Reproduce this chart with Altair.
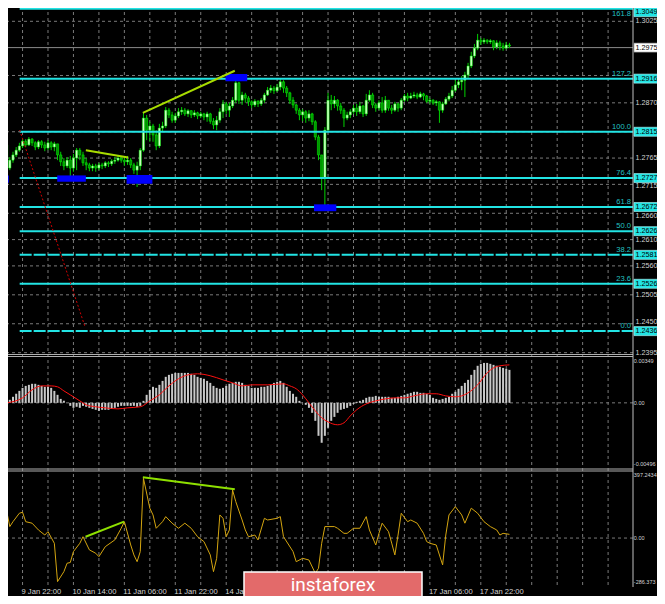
import altair as alt
import pandas as pd

# ---------------- data (GBPUSD H1, bars indexed in hours after 9 Jan 22:00) ----------------
bar_start = -5
first_open = 1.2790
closes = [1.2746, 1.2761, 1.2771, 1.2780, 1.2788,
          1.2797, 1.2790, 1.2801, 1.2794, 1.2786, 1.2796, 1.2790, 1.2784, 1.2794, 1.2786,
          1.2792, 1.2771, 1.2758, 1.2750, 1.2761, 1.2746, 1.2765, 1.2780, 1.2771, 1.2756,
          1.2752, 1.2746, 1.2750, 1.2746, 1.2752, 1.2750, 1.2756, 1.2754, 1.2759, 1.2761,
          1.2765, 1.2761, 1.2758, 1.2761, 1.2752, 1.2742, 1.2750, 1.2780, 1.2841, 1.2818,
          1.2826, 1.2809, 1.2788, 1.2822, 1.2826, 1.2856, 1.2847, 1.2837, 1.2845, 1.2853,
          1.2856, 1.2849, 1.2855, 1.2847, 1.2851, 1.2845, 1.2849, 1.2843, 1.2849, 1.2835,
          1.2828, 1.2837, 1.2853, 1.2868, 1.2856, 1.2864, 1.2875, 1.2908, 1.2875, 1.2885,
          1.2879, 1.2872, 1.2866, 1.2873, 1.2868, 1.2875, 1.2885, 1.2894, 1.2898, 1.2893,
          1.2900, 1.2910, 1.2898, 1.2889, 1.2875, 1.2866, 1.2856, 1.2847, 1.2853, 1.2841,
          1.2849, 1.2834, 1.2805, 1.2771, 1.2727, 1.2818, 1.2875, 1.2868, 1.2875, 1.2864,
          1.2856, 1.2841, 1.2847, 1.2853, 1.2860, 1.2853, 1.2864, 1.2849, 1.2875, 1.2885,
          1.2866, 1.2860, 1.2870, 1.2856, 1.2875, 1.2860, 1.2856, 1.2868, 1.2860, 1.2875,
          1.2883, 1.2879, 1.2883, 1.2885, 1.2881, 1.2887, 1.2883, 1.2873, 1.2875, 1.2870,
          1.2872, 1.2856, 1.2868, 1.2877, 1.2883, 1.2894, 1.2904, 1.2910, 1.2913, 1.2923,
          1.2940, 1.2959, 1.2974, 1.2989, 1.2986, 1.2989, 1.2986, 1.2988, 1.2976, 1.2984,
          1.2978, 1.2974, 1.2980, 1.2978]
highs = [1.2803, 1.2767, 1.2777, 1.2786, 1.2794,
         1.2803, 1.2801, 1.2805, 1.2803, 1.2797, 1.2799, 1.2799, 1.2796, 1.2799, 1.2797,
         1.2796, 1.2788, 1.2777, 1.2765, 1.2767, 1.2769, 1.2773, 1.2784, 1.2784, 1.2777,
         1.2765, 1.2756, 1.2754, 1.2754, 1.2756, 1.2756, 1.2759, 1.2759, 1.2763, 1.2767,
         1.2771, 1.2769, 1.2767, 1.2769, 1.2765, 1.2756, 1.2758, 1.2784, 1.2851, 1.2847,
         1.2834, 1.2830, 1.2818, 1.2830, 1.2834, 1.2862, 1.2860, 1.2853, 1.2851, 1.2860,
         1.2862, 1.2860, 1.2858, 1.2856, 1.2856, 1.2853, 1.2853, 1.2851, 1.2853, 1.2851,
         1.2841, 1.2845, 1.2860, 1.2875, 1.2872, 1.2870, 1.2881, 1.2917, 1.2910, 1.2891,
         1.2889, 1.2883, 1.2875, 1.2877, 1.2875, 1.2879, 1.2889, 1.2900, 1.2904, 1.2902,
         1.2906, 1.2917, 1.2913, 1.2902, 1.2891, 1.2881, 1.2868, 1.2860, 1.2858, 1.2856,
         1.2856, 1.2851, 1.2837, 1.2809, 1.2771, 1.2824, 1.2889, 1.2885, 1.2883, 1.2877,
         1.2870, 1.2860, 1.2853, 1.2858, 1.2866, 1.2868, 1.2872, 1.2866, 1.2887, 1.2894,
         1.2889, 1.2870, 1.2875, 1.2881, 1.2883, 1.2875, 1.2866, 1.2872, 1.2870, 1.2879,
         1.2887, 1.2889, 1.2889, 1.2891, 1.2889, 1.2891, 1.2889, 1.2885, 1.2879, 1.2877,
         1.2875, 1.2873, 1.2872, 1.2881, 1.2889, 1.2902, 1.2913, 1.2917, 1.2921, 1.2929,
         1.2946, 1.2967, 1.2982, 1.3001, 1.2993, 1.2993, 1.2991, 1.2991, 1.2989, 1.2989,
         1.2988, 1.2984, 1.2986, 1.2984]
lows = [1.2739, 1.2742, 1.2756, 1.2767, 1.2777,
        1.2784, 1.2786, 1.2788, 1.2788, 1.2780, 1.2782, 1.2784, 1.2778, 1.2780, 1.2780,
        1.2778, 1.2761, 1.2750, 1.2742, 1.2746, 1.2729, 1.2739, 1.2742, 1.2761, 1.2750,
        1.2742, 1.2740, 1.2740, 1.2739, 1.2742, 1.2744, 1.2746, 1.2748, 1.2750, 1.2754,
        1.2758, 1.2756, 1.2750, 1.2752, 1.2746, 1.2735, 1.2710, 1.2742, 1.2777, 1.2799,
        1.2796, 1.2796, 1.2780, 1.2784, 1.2816, 1.2822, 1.2841, 1.2832, 1.2832, 1.2841,
        1.2847, 1.2845, 1.2843, 1.2841, 1.2843, 1.2839, 1.2841, 1.2837, 1.2834, 1.2830,
        1.2820, 1.2818, 1.2832, 1.2841, 1.2849, 1.2843, 1.2860, 1.2870, 1.2868, 1.2866,
        1.2870, 1.2864, 1.2860, 1.2862, 1.2862, 1.2864, 1.2870, 1.2883, 1.2889, 1.2887,
        1.2891, 1.2894, 1.2889, 1.2881, 1.2868, 1.2860, 1.2849, 1.2837, 1.2835, 1.2832,
        1.2835, 1.2828, 1.2799, 1.2761, 1.2704, 1.2672, 1.2818, 1.2856, 1.2860, 1.2855,
        1.2849, 1.2824, 1.2837, 1.2841, 1.2849, 1.2845, 1.2849, 1.2843, 1.2845, 1.2872,
        1.2860, 1.2853, 1.2856, 1.2851, 1.2851, 1.2855, 1.2849, 1.2853, 1.2853, 1.2856,
        1.2872, 1.2873, 1.2877, 1.2879, 1.2877, 1.2879, 1.2875, 1.2870, 1.2868, 1.2866,
        1.2864, 1.2832, 1.2851, 1.2866, 1.2873, 1.2879, 1.2891, 1.2898, 1.2894, 1.2881,
        1.2917, 1.2936, 1.2955, 1.2970, 1.2980, 1.2982, 1.2982, 1.2982, 1.2970, 1.2972,
        1.2970, 1.2969, 1.2972, 1.2974]

macd_hist = [0.00015, 0.00023, 0.00046, 0.00069, 0.00091,
             0.00114, 0.00129, 0.00137, 0.00145, 0.00145, 0.00137, 0.00129, 0.00122, 0.00122, 0.00114,
             0.00091, 0.00061, 0.0003, 0.00015, 0.0, -0.00023, -0.00038, -0.0003, -0.00038, -0.00023,
             -0.0003, -0.00038, -0.00046, -0.00053, -0.00061, -0.00053, -0.00053, -0.00053, -0.00046, -0.00038,
             -0.0003, -0.00023, -0.00023, -0.00023, -0.00023, -0.00023, -0.0003, -0.00023, 0.00015, 0.00061,
             0.00099, 0.00122, 0.00114, 0.00137, 0.00167, 0.00198, 0.00213, 0.00221, 0.00228, 0.00228,
             0.00228, 0.00228, 0.00228, 0.00221, 0.00213, 0.00198, 0.0019, 0.00183, 0.00167, 0.00152,
             0.00129, 0.00114, 0.00107, 0.00114, 0.00129, 0.00145, 0.00152, 0.0016, 0.0016, 0.00152,
             0.00137, 0.00129, 0.00114, 0.00114, 0.00114, 0.00122, 0.00122, 0.00129, 0.00137, 0.00152,
             0.0016, 0.00167, 0.00152, 0.00122, 0.00091, 0.00069, 0.00046, 0.00015, 0.0, -0.00015,
             -0.00038, -0.00076, -0.00137, -0.00251, -0.00304, -0.00251, -0.0019, -0.00137, -0.00107, -0.00076,
             -0.00053, -0.00046, -0.00038, -0.00023, -0.00008, 0.00008, 0.00015, 0.00023, 0.00038, 0.00046,
             0.00046, 0.00053, 0.00046, 0.00046, 0.00046, 0.00046, 0.00038, 0.00038, 0.00046, 0.00053,
             0.00061, 0.00069, 0.00076, 0.00084, 0.00084, 0.00076, 0.00076, 0.00069, 0.00061, 0.00038,
             0.0003, 0.00023, 0.0003, 0.00038, 0.00046, 0.00069, 0.00084, 0.00107, 0.00129, 0.00152,
             0.00175, 0.00213, 0.00251, 0.00282, 0.00297, 0.00304, 0.00304, 0.00297, 0.00289, 0.00282,
             0.00274, 0.00266, 0.00259, 0.00251]

signal_t = [-5, 0, 3, 6, 9, 11, 13, 15, 18, 20, 23, 26, 30, 33, 37, 40, 43, 46, 49, 52, 55, 59, 63,
            66, 69, 72, 77, 82, 84, 86, 88, 90, 92, 94, 96, 99, 101, 103, 105, 108, 111, 114, 117,
            120, 123, 127, 130, 133, 136, 138, 140, 143, 146, 148, 150, 153]
signal_v = [0.0, 0.00038, 0.00099, 0.00129, 0.00129, 0.00122, 0.00091, 0.00061, 0.00015, -0.00015,
            -0.0003, -0.00038, -0.00046, -0.00038, -0.0003, 0.00015, 0.00061, 0.00129, 0.00183,
            0.00213, 0.00221, 0.00206, 0.00175, 0.00152, 0.00129, 0.00137, 0.00137, 0.00145, 0.00129,
            0.00107, 0.00061, 0.0, -0.00061, -0.00114, -0.00145, -0.00167, -0.00152, -0.00099,
            -0.00053, -0.00008, 0.00015, 0.0003, 0.00038, 0.00038, 0.00053, 0.00069, 0.00069,
            0.00053, 0.00046, 0.00053, 0.00076, 0.00137, 0.00228, 0.00266, 0.00282, 0.00289]

cci_t = [-5, -4, -3, -1, 0, 1, 3, 5, 7, 8, 10, 11, 13, 14, 15, 16, 18, 19, 21, 23, 24, 26, 29, 31,
         32, 34, 35, 36, 37, 38, 40, 41, 42, 44, 45, 47, 49, 51, 53, 55, 57, 59, 60, 61, 62, 63, 64,
         65, 66, 67, 69, 70, 71, 73, 74, 76, 77, 80, 81, 82, 85, 86, 88, 90, 92, 93, 94, 95, 98, 99,
         101, 102, 104, 106, 108, 109, 111, 112, 113, 115, 116, 117, 118, 119, 121, 122, 124, 126,
         127, 128, 130, 132, 133, 134, 136, 138, 139, 141, 143, 145, 147, 149, 150, 151, 153]
cci_v = [160, 68, 97, 147, 153, 97, 88, 48, 18, 38, -31, -258, -199, -149, -145, -80, -31, 8, -70,
         -90, -110, -51, -11, 58, 97, -41, -100, -140, -80, 354, 177, 137, 58, 97, 127, 88, 58, 88,
         58, 8, -21, -100, -199, -120, 137, 117, 8, 48, 285, 216, 107, 48, 8, 18, -11, 117, 107, 117,
         127, 8, -80, -140, -120, -130, -209, -179, -31, 68, 68, 58, 28, 28, 58, 58, 127, 48, -41, 28,
         88, 38, -30, -100, 18, 147, 97, 107, 88, 28, -21, -31, -41, -159, 18, 137, 186, 137, 88,
         177, 147, 97, 68, 48, 18, 28, 22]

fib_pct = ["161.8", "127.2", "100.0", "76.4", "61.8", "50.0", "38.2", "23.6", "0.0"]
fib_price = [1.3049, 1.2916, 1.2815, 1.2727, 1.2672, 1.2626, 1.2581, 1.2526, 1.2436]
fib_dashed = [False, False, False, False, False, False, True, False, True]
fib_start_t = -0.9
grid_price = [1.3025, 1.2922, 1.2870, 1.2815, 1.2765, 1.2715, 1.2660, 1.2610, 1.2560,
              1.2505, 1.2450, 1.2395]
grid_label_price = [1.3025, 1.2870, 1.2765, 1.2715, 1.2660, 1.2610, 1.2560, 1.2505, 1.2450, 1.2395]
bid_price = 1.2975

price_trend = [[(37.8, 1.2851), (66.7, 1.2931)], [(19.9, 1.2780), (33.2, 1.2766)]]
cci_trend = [[(19.8, 8), (31.9, 97)], [(37.8, 360), (66.7, 289)]]
red_line = [(-0.9, 1.2818), (19.7, 1.2443)]
blue_boxes = [(-5.6, -4.3, 1.2718, 1.2732), (10.9, 19.9, 1.2720, 1.2732),
              (32.7, 40.8, 1.2716, 1.2733), (91.6, 98.6, 1.2664, 1.2677),
              (63.8, 70.6, 1.2911, 1.2925)]

time_t = [0, 16, 32, 48, 64, 128, 144]
time_labels = ["9 Jan 22:00", "10 Jan 14:00", "11 Jan 06:00", "11 Jan 22:00",
               "14 Jan 14:00", "17 Jan 06:00", "17 Jan 22:00"]
vgrid_t = list(range(0, 185, 8))

macd_labels = [(0.00349, "0.00349"), (0.0, "0.00"), (-0.00496, "-0.00496")]
cci_labels = [(397.2434, "397.2434"), (0.0, "0.00"), (-286.373, "-286.373")]

# ---------------- frames ----------------
n = len(closes)
opens = [first_open] + closes[:-1]
candles = pd.DataFrame({
    "t": [bar_start + i for i in range(n)],
    "o": opens, "c": closes,
    "h": [max(h, o, c) for h, o, c in zip(highs, opens, closes)],
    "l": [min(l, o, c) for l, o, c in zip(lows, opens, closes)],
})
candles["dir"] = ["up" if c >= o else "down" for o, c in zip(candles.o, candles.c)]
macd_df = pd.DataFrame({"t": candles.t, "v": macd_hist})
sig_df = pd.DataFrame({"t": signal_t, "v": signal_v})
cci_df = pd.DataFrame({"t": cci_t, "v": cci_v})
fib_df = pd.DataFrame({"pct": fib_pct, "p": fib_price, "dashed": fib_dashed,
                       "t0": fib_start_t, "lab": [f"{p:.4f}" for p in fib_price]})
# the top level tag sits at the very top edge; keep it inside the window
fib_df["tagdy"] = [4.0 if p == max(fib_price) else 0.0 for p in fib_price]
grid_df = pd.DataFrame({"p": grid_price})
glab_df = pd.DataFrame({"p": grid_label_price, "lab": [f"{p:.4f}" for p in grid_label_price]})
one = pd.DataFrame({"a": [0]})

def seg_df(segs):
    rows = []
    for k, s in enumerate(segs):
        for (t, v) in s:
            rows.append({"id": k, "t": t, "v": v})
    return pd.DataFrame(rows)

ptrend_df = seg_df(price_trend)
ctrend_df = seg_df(cci_trend)
red_df = seg_df([red_line])
box_df = pd.DataFrame(blue_boxes, columns=["t1", "t2", "p1", "p2"])
time_df = pd.DataFrame({"t": time_t, "lab": time_labels})
vgrid_df = pd.DataFrame({"t": vgrid_t})

# ---------------- scales (coordinates follow the 665x604 picture) ----------------
XS = alt.Scale(domain=[-5.509, 200.31], range=[0, 665], nice=False, zero=False)
PS = alt.Scale(domain=[1.23906, 1.30655], range=[355, 0], nice=False, zero=False)
MS = alt.Scale(domain=[-0.00496, 0.00349], range=[468, 357], nice=False, zero=False)
CS = alt.Scale(domain=[-286.373, 397.2434], range=[586.4, 471], nice=False, zero=False)

def X(f):
    return alt.X(f, type="quantitative", scale=XS, axis=None)

def Y(f, s):
    return alt.Y(f, type="quantitative", scale=s, axis=None)

FONT = "Liberation Sans"
GRID = "#7a7a7a"
CYAN = "#22e4e4"
LIME = "#00ff00"
TEAL_TXT = "#22c4c4"
AX_TXT = "#d4d4d4"
FS = 7.2

layers = []
# vertical grid
layers.append(alt.Chart(vgrid_df).mark_rule(color=GRID, strokeDash=[3, 3], strokeWidth=1).encode(
    x=X("t"), y=alt.value(0), y2=alt.value(587)))
# price grid
layers.append(alt.Chart(grid_df).mark_rule(color=GRID, strokeDash=[3, 3], strokeWidth=1).encode(
    x=alt.value(0), x2=alt.value(633), y=Y("p", PS)))
# zero lines
layers.append(alt.Chart(one).mark_rule(color=GRID, strokeDash=[3, 3]).encode(
    x=alt.value(0), x2=alt.value(633), y=alt.Y(datum=0, scale=MS, axis=None)))
layers.append(alt.Chart(one).mark_rule(color=GRID, strokeDash=[3, 3]).encode(
    x=alt.value(0), x2=alt.value(633), y=alt.Y(datum=0, scale=CS, axis=None)))
# bid line
layers.append(alt.Chart(one).mark_rule(color="#8a8a8a", strokeWidth=1).encode(
    x=alt.value(0), x2=alt.value(633), y=alt.Y(datum=bid_price, scale=PS, axis=None)))
# candles
layers.append(alt.Chart(candles).mark_rule(color="#00d000", strokeWidth=1).encode(
    x=X("t"), y=Y("l", PS), y2="h"))
layers.append(alt.Chart(candles).mark_bar(size=2.2, stroke=LIME, strokeWidth=0.5).encode(
    x=X("t"), y=Y("o", PS), y2="c",
    fill=alt.Fill("dir:N", scale=alt.Scale(domain=["up", "down"], range=["#d2ffc8", "#009400"]),
                  legend=None)))
# fib lines
layers.append(alt.Chart(fib_df).transform_filter("!datum.dashed").mark_rule(
    color=CYAN, strokeWidth=2).encode(x=X("t0"), x2=alt.value(633), y=Y("p", PS)))
layers.append(alt.Chart(fib_df).transform_filter("datum.dashed").mark_rule(
    color=CYAN, strokeWidth=2, strokeDash=[12, 2]).encode(x=X("t0"), x2=alt.value(633), y=Y("p", PS)))
# blue boxes
layers.append(alt.Chart(box_df).mark_rect(color="#0000ff").encode(
    x=X("t1"), x2="t2", y=Y("p1", PS), y2="p2"))
# trend lines
layers.append(alt.Chart(ptrend_df).mark_line(color="#a8dc00", strokeWidth=2).encode(
    x=X("t"), y=Y("v", PS), detail="id:N"))
layers.append(alt.Chart(red_df).mark_line(color="#d00000", strokeWidth=1, strokeDash=[2, 2]).encode(
    x=X("t"), y=Y("v", PS)))
# MACD
layers.append(alt.Chart(macd_df).mark_bar(size=2, color="#c8c8c8").encode(
    x=X("t"), y=Y("v", MS), y2=alt.Y2(datum=0)))
layers.append(alt.Chart(sig_df).mark_line(color="#ff1010", strokeWidth=1, interpolate="monotone").encode(
    x=X("t"), y=Y("v", MS)))
# CCI
layers.append(alt.Chart(cci_df).mark_line(color="#d4a510", strokeWidth=1).encode(
    x=X("t"), y=Y("v", CS)))
layers.append(alt.Chart(ctrend_df).mark_line(color="#8ee000", strokeWidth=2).encode(
    x=X("t"), y=Y("v", CS), detail="id:N"))
# separators and right axis line
for yy in [354.5, 356.5, 469, 471]:
    layers.append(alt.Chart(one).mark_rule(color="#b0b0b0", strokeWidth=1).encode(
        x=alt.value(0), x2=alt.value(633), y=alt.value(yy)))
layers.append(alt.Chart(one).mark_rule(color="#c0c0c0", strokeWidth=1).encode(
    x=alt.value(633), y=alt.value(0), y2=alt.value(587)))
# price axis labels (nudged where a level tag sits next to them, as MT4 does)
nudge = {1.2715: 1.8, 1.2660: 2.6, 1.2450: -2.2}
for p, lab in zip(glab_df.p, glab_df.lab):
    layers.append(alt.Chart(pd.DataFrame({"p": [p], "lab": [lab]})).mark_text(
        align="left", baseline="middle", font=FONT, fontSize=FS, color=AX_TXT,
        dy=nudge.get(p, 0.0)).encode(x=alt.value(635.5), y=Y("p", PS), text="lab:N"))
# indicator labels
for lst, sc in [(macd_labels, MS), (cci_labels, CS)]:
    for k, (v, lab) in enumerate(lst):
        base = ["top", "middle", "bottom"][k]
        dy = [2, 0, -1][k]
        layers.append(alt.Chart(pd.DataFrame({"v": [v], "lab": [lab]})).mark_text(
            align="left", baseline=base, dy=dy, font=FONT, fontSize=5.5, color=AX_TXT).encode(
            x=alt.value(633.8), y=Y("v", sc), text="lab:N"))
# fib percentage labels (top one placed under its line so it stays inside the window)
layers.append(alt.Chart(fib_df).transform_filter("datum.tagdy == 0").mark_text(
    align="right", baseline="bottom", dy=-1, font=FONT, fontSize=7.6, color=TEAL_TXT).encode(
    x=alt.value(631), y=Y("p", PS), text="pct:N"))
layers.append(alt.Chart(fib_df).transform_filter("datum.tagdy > 0").mark_text(
    align="right", baseline="top", dy=1.5, font=FONT, fontSize=7.6, color=TEAL_TXT).encode(
    x=alt.value(631), y=Y("p", PS), text="pct:N"))
# fib price tags
layers.append(alt.Chart(fib_df).transform_filter("datum.tagdy == 0").mark_rect(
    fill=CYAN, stroke="#b8ffff", strokeWidth=0.6, yOffset=-4.5, y2Offset=4.5).encode(
    x=alt.value(634), x2=alt.value(661), y=Y("p", PS), y2="p"))
layers.append(alt.Chart(fib_df).transform_filter("datum.tagdy == 0").mark_text(
    align="left", baseline="middle", font=FONT, fontSize=FS, color="black").encode(
    x=alt.value(635.5), y=Y("p", PS), text="lab:N"))
layers.append(alt.Chart(fib_df).transform_filter("datum.tagdy > 0").mark_rect(
    fill=CYAN, stroke="#b8ffff", strokeWidth=0.6, yOffset=-1, y2Offset=8).encode(
    x=alt.value(634), x2=alt.value(661), y=Y("p", PS), y2="p"))
layers.append(alt.Chart(fib_df).transform_filter("datum.tagdy > 0").mark_text(
    align="left", baseline="middle", font=FONT, fontSize=FS, color="black", dy=3.6).encode(
    x=alt.value(635.5), y=Y("p", PS), text="lab:N"))
# bid box
bid_df = pd.DataFrame({"p": [bid_price], "lab": [f"{bid_price:.4f}"]})
layers.append(alt.Chart(bid_df).mark_rect(fill="white", stroke="#909090", strokeWidth=0.6,
                                          yOffset=-4.5, y2Offset=4.5).encode(
    x=alt.value(634), x2=alt.value(661), y=Y("p", PS), y2="p"))
layers.append(alt.Chart(bid_df).mark_text(align="left", baseline="middle", font=FONT, fontSize=FS,
                                          color="black").encode(
    x=alt.value(635.5), y=Y("p", PS), text="lab:N"))
# time labels
layers.append(alt.Chart(time_df).mark_text(align="left", baseline="middle", font=FONT, fontSize=7.6,
                                           color=AX_TXT, dx=-1).encode(
    x=X("t"), y=alt.value(591.5), text="lab:N"))
# watermark
layers.append(alt.Chart(one).mark_rect(fill="#e36a6a", stroke="white", strokeWidth=1.5).encode(
    x=alt.value(244), x2=alt.value(422), y=alt.value(572), y2=alt.value(606)))
layers.append(alt.Chart(one).mark_text(font="Roboto", fontSize=19, color="white", align="center",
                                       baseline="middle").encode(
    x=alt.value(333), y=alt.value(584.5), text=alt.value("instaforex")))

# The page adds an 8px margin; the view is shifted by -8 so picture coordinates stay 1:1
# and the drawing (649x588) plus margins fills exactly 665x604.
chart = alt.layer(*layers).resolve_scale(y="independent").properties(
    width=657, height=596,
    autosize=alt.AutoSizeParams(type="none"),
    padding={"left": -8, "top": -8, "right": 0, "bottom": 0},
    background="black",
).configure_view(stroke=None)

chart.save("out.html", embed_options={"renderer": "svg", "actions": False})
